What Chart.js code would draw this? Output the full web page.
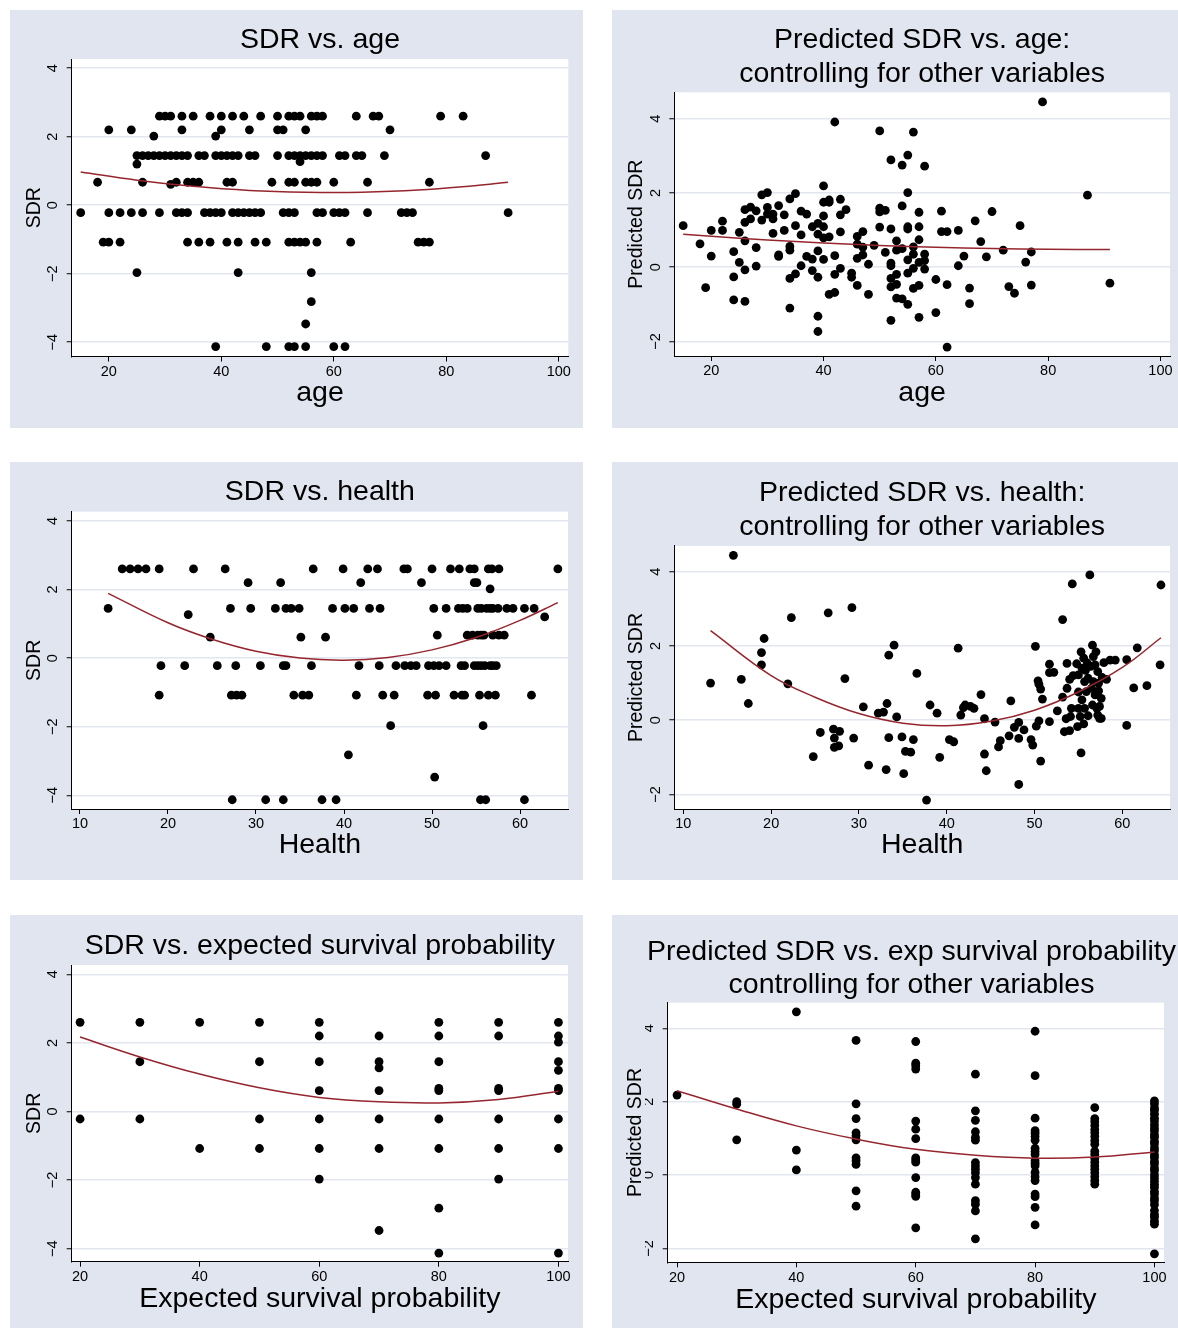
<!DOCTYPE html>
<html><head><meta charset="utf-8">
<script src="https://cdn.jsdelivr.net/npm/chart.js@4.4.0/dist/chart.umd.min.js"></script>
<style>
html,body{margin:0;padding:0;background:#fff;}
body{width:1178px;height:1328px;position:relative;overflow:hidden;}
.panel{position:absolute;background:#E1E5EF;}
canvas{display:block;}
</style></head><body>
<div class="panel" style="left:10px;top:10px;width:573px;height:418px"><canvas id="c1"></canvas></div>
<div class="panel" style="left:612px;top:10px;width:566px;height:418px"><canvas id="c2"></canvas></div>
<div class="panel" style="left:10px;top:462px;width:573px;height:418px"><canvas id="c3"></canvas></div>
<div class="panel" style="left:612px;top:462px;width:566px;height:418px"><canvas id="c4"></canvas></div>
<div class="panel" style="left:10px;top:915px;width:573px;height:413px"><canvas id="c5"></canvas></div>
<div class="panel" style="left:612px;top:915px;width:566px;height:413px"><canvas id="c6"></canvas></div>
<script>
// ---------------- DATA ----------------
const sdrTicks = [-4, -2, 0, 2, 4];
const predTicks = [-2, 0, 2, 4];
const ageTicks = [20, 40, 60, 80, 100];
const healthTicks = [10, 20, 30, 40, 50, 60];
const survTicks = [20, 40, 60, 80, 100];

// observed SDR takes a few discrete values
const sdrLevels = [2.6, 2.2, 2.02, 1.45, 1.27, 1.2, 0.67, 0.61, -0.22, -1.08, -1.97, -2.82, -3.47, -4.13];

// Panel 1: SDR vs age  (ages observed at each SDR level, same order as sdrLevels)
const ageAtLevel = [
  [29,30,31,33,35,38,40,42,44,47,50,52,53,54,56,57,58,64,67,68,79,83],
  [20,24,33,40,45,50,51,55,70],
  [28,39],
  [25,26,27,28,29,30,31,32,33,34,36,37,39,40,41,42,43,45,46,50,52,53,54,55,56,57,58,61,62,64,65,69,87],
  [54],
  [25],
  [18,26,32,34,35,36,41,42,49,52,53,55,56,57,60,66,77],
  [31],
  [15,20,22,24,26,29,32,33,34,37,38,39,40,42,43,44,45,46,47,51,52,53,57,58,60,61,62,66,72,73,74,91],
  [19,20,22,34,36,38,41,43,46,48,52,53,54,55,57,63,75,76,77],
  [25,43,56],
  [56],
  [55],
  [39,48,52,53,55,60,62]
];
const ageFitX = [15, 25, 35, 45, 55, 65, 75, 85, 91];
const ageFitY = [0.97, 0.73, 0.55, 0.43, 0.38, 0.38, 0.44, 0.57, 0.67];

// Panel 2: predicted SDR vs age
const predAge = [15,18,19,20,20,22,22,24,24,24,25,25,26,26,26,26,26,27,27,28,28,28,29,29,30,30,30,31,31,31,32,32,32,33,33,34,34,34,34,34,35,35,35,36,36,36,37,37,38,38,38,39,39,39,39,39,39,40,40,40,40,40,40,41,41,41,41,42,42,42,42,43,43,43,43,44,45,45,46,46,46,46,47,47,47,48,48,49,50,50,50,50,51,51,52,52,52,52,52,52,52,53,53,53,53,53,54,54,54,54,55,55,55,55,55,55,55,56,56,56,56,56,57,57,57,57,57,57,58,58,58,58,60,60,61,61,62,62,62,64,64,65,66,66,67,68,69,70,72,73,74,75,76,77,77,79,87,91];
const predAgeSdr = [1.12,0.63,-0.55,0.99,0.30,1.24,0.99,0.42,-0.26,-0.88,0.94,0.13,1.55,1.21,0.71,-0.07,-0.92,1.62,1.30,1.52,0.53,0.03,1.95,1.27,2.01,1.61,1.43,1.43,1.30,0.91,1.66,0.33,0.29,1.41,0.99,1.84,0.56,0.46,-0.30,-1.10,1.98,1.12,-0.18,1.51,0.87,0.04,1.43,0.29,1.09,0.22,-0.09,1.18,0.89,0.44,-0.27,-1.32,-1.73,2.19,1.75,1.38,1.09,0.79,0.21,1.81,1.75,0.82,-0.73,3.91,0.31,-0.19,-0.68,1.83,1.41,0.95,-0.03,1.55,-0.16,-0.27,0.83,0.62,0.24,-0.49,0.96,0.54,0.33,0.08,-0.73,0.59,3.67,1.59,1.49,1.08,1.53,0.40,2.89,1.03,0.11,0.04,-0.30,-0.53,-1.43,0.71,0.46,-0.19,-0.46,-0.83,2.75,1.65,0.50,-0.85,3.02,2.01,1.09,1.03,0.20,-0.16,-1.00,3.64,0.55,0.35,-0.03,-0.57,1.48,1.09,0.74,0.13,-0.49,-1.35,2.72,0.35,0.18,-0.05,-0.33,-1.22,1.51,0.96,0.96,-0.47,-2.15,0.99,0.04,0.30,-0.56,-0.98,1.25,0.69,0.28,1.50,0.46,-0.52,-0.70,1.12,0.14,0.41,-0.48,4.45,1.94,-0.43];
const predAgeFitX = [15, 25, 35, 45, 55, 65, 75, 85, 91];
const predAgeFitY = [0.89, 0.78, 0.69, 0.62, 0.56, 0.52, 0.49, 0.48, 0.48];

// Panel 3: SDR vs health (health scores at each SDR level)
const healthAtLevel = [
  [14.8,15.7,16.6,17.5,19.0,22.9,26.5,36.5,39.9,42.7,43.8,46.8,47.2,50.0,52.1,53.1,54.3,54.8,56.4,56.8,57.6,64.3],
  [29.1,32.8,41.9,48.8,54.8,55.1],
  [56.6],
  [13.2,27.1,29.4,32.2,33.4,34.0,34.9,38.7,40.1,41.1,42.9,44.1,50.2,51.6,53.0,53.5,54.0,55.2,55.6,56.2,56.6,56.9,57.5,58.5,59.2,60.5,61.6],
  [22.3],
  [62.8],
  [50.6,54.0,54.6,55.2,55.6,55.9,56.9,57.6,58.2],
  [24.8,35.1,37.9],
  [19.2,21.9,25.6,27.7,30.5,33.1,33.4,36.3,41.7,44.0,45.9,46.9,47.6,48.2,49.6,50.2,50.8,51.6,53.3,53.7,54.8,55.2,55.6,56.0,56.6,56.9,57.3],
  [19.0,27.2,27.8,28.4,34.3,35.3,36.0,41.4,44.4,45.7,49.5,50.4,52.5,53.4,53.7,55.4,56.4,57.2,61.3],
  [45.3,55.8],
  [40.5],
  [50.3],
  [27.3,31.1,33.1,37.5,39.1,55.5,56.1,60.5]
];
const healthFitX = [13.2, 20, 25, 30, 35, 40, 45, 50, 55, 60, 64.3];
const healthFitY = [1.89, 1.03, 0.55, 0.20, 0.00, -0.06, 0.02, 0.24, 0.60, 1.10, 1.62];

// Panel 4: predicted SDR vs health
const predHealth = [15.7,13.1,16.6,17.4,18.9,18.9,19.2,21.9,22.3,24.8,25.6,26.5,27.1,27.2,27.2,27.7,27.8,28.4,29.2,29.4,30.5,31.1,32.2,32.8,33.1,33.2,33.4,33.4,34.0,34.3,34.9,35.1,35.3,35.9,36.2,36.6,37.7,38.1,38.9,39.2,40.3,40.8,41.3,41.6,41.9,42.1,42.7,43.1,43.9,44.3,44.3,44.5,45.5,45.9,46.1,47.1,47.3,47.7,48.2,48.2,48.2,48.8,49.6,49.8,50.1,50.2,50.4,50.5,50.5,50.7,50.7,50.9,51.7,51.7,51.7,52.2,52.6,53.2,53.2,53.4,53.6,53.7,53.7,54.0,54.0,54.1,54.2,54.3,54.4,54.8,54.9,55.0,55.0,55.0,55.2,55.3,55.3,55.4,55.4,55.6,55.6,55.7,55.7,55.8,55.9,56.0,56.1,56.1,56.3,56.4,56.5,56.6,56.6,56.7,56.7,56.9,56.9,57.0,57.1,57.2,57.2,57.3,57.3,57.4,57.4,57.6,57.6,57.7,57.9,58.2,58.6,59.2,60.5,60.5,61.3,61.7,62.8,64.3,64.4];
const predHealthSdr = [4.44,1.00,1.10,0.45,1.82,1.49,2.20,0.98,2.76,-0.98,-0.33,2.89,-0.24,-0.48,-0.73,-0.69,-0.30,1.12,3.03,-0.48,0.36,-1.21,0.19,0.22,-1.33,0.45,1.75,-0.47,2.02,0.09,-0.45,-1.44,-0.84,-0.86,-0.52,1.26,-2.15,0.41,0.19,-1.00,-0.52,-0.58,1.94,0.14,0.34,0.41,0.37,0.32,0.69,-0.91,0.04,-1.36,-0.05,-0.72,-0.55,-0.42,0.52,-0.19,-0.06,-0.49,-1.73,-0.26,-0.52,-0.67,1.99,-0.16,1.06,0.97,-0.02,-1.10,0.84,0.57,1.51,1.28,-0.04,1.29,0.25,2.71,0.62,-0.31,0.04,1.53,0.86,-0.28,1.10,0.10,0.32,3.67,1.20,1.52,-0.17,1.22,0.76,0.32,0.10,1.84,-0.88,1.40,0.55,1.67,-0.10,1.04,0.32,1.34,0.77,1.54,0.12,1.13,3.91,1.45,0.86,2.02,0.41,1.71,1.04,1.49,0.68,1.84,0.32,1.31,0.14,1.00,0.79,0.05,0.37,0.59,0.05,1.15,1.55,1.10,1.62,1.62,1.63,-0.14,0.87,1.95,0.93,1.49,3.64];
const predHealthFitX = [13.1, 20, 25, 30, 35, 40, 45, 50, 55, 60, 64.4];
const predHealthFitY = [2.41, 1.20, 0.62, 0.18, -0.08, -0.15, -0.03, 0.27, 0.76, 1.42, 2.22];

// Panel 5: SDR vs expected survival probability
const survCats = [20, 30, 40, 50, 60, 70, 80, 90, 100];
const sdrAtSurv = [
  [2.6, -0.22],
  [2.6, 1.45, -0.22],
  [2.6, -1.08],
  [2.6, 1.45, -0.22, -1.08],
  [2.6, 2.2, 1.45, 0.61, -0.22, -1.08, -1.97],
  [2.2, 1.45, 1.27, 0.61, -0.22, -1.08, -3.47],
  [2.6, 2.2, 1.45, 0.67, 0.61, -0.22, -1.08, -2.82, -4.13],
  [2.6, 2.2, 0.67, 0.61, -0.22, -1.08, -1.97],
  [2.6, 2.2, 2.02, 1.45, 1.2, 0.67, 0.61, -0.22, -1.08, -4.13]
];
const survFitX = [20, 30, 40, 50, 60, 70, 80, 90, 100];
const survFitY = [2.17, 1.59, 1.09, 0.69, 0.41, 0.28, 0.25, 0.35, 0.59];

// Panel 6: predicted SDR vs expected survival probability
const predAtSurv = [
  [2.18],
  [2.00, 1.93, 0.96],
  [4.45, 0.68, 0.14],
  [3.67, 1.94, 1.54, 1.15, 1.07, 0.96, 0.47, 0.39, 0.29, -0.43, -0.85],
  [3.64, 3.05, 2.98, 2.89, 1.47, 1.25, 0.99, 0.47, 0.41, 0.35, -0.07, -0.47, -0.53, -0.58, -1.44],
  [2.75, 1.75, 1.49, 1.18, 1.03, 0.95, 0.34, 0.25, 0.16, 0.06, -0.07, -0.25, -0.70, -0.80, -0.98, -1.74],
  [3.92, 2.71, 1.55, 1.21, 1.14, 1.05, 0.95, 0.73, 0.64, 0.56, 0.39, 0.32, 0.25, 0.07, -0.05, -0.15, -0.52, -0.59, -0.88, -1.36],
  [1.84, 1.54, 1.45, 1.35, 1.24, 1.15, 1.05, 0.94, 0.84, 0.65, 0.56, 0.45, 0.35, 0.25, 0.16, 0.06, -0.05, -0.15, -0.25],
  [2.02, 1.94, 1.83, 1.76, 1.66, 1.55, 1.47, 1.37, 1.28, 1.21, 1.10, 1.03, 0.92, 0.85, 0.74, 0.66, 0.55, 0.48, 0.37, 0.30, 0.19, 0.12, 0.01, -0.08, -0.17, -0.26, -0.34, -0.45, -0.52, -0.63, -0.70, -0.81, -0.97, -1.08, -1.15, -1.26, -1.34, -2.15]
];
const predSurvFitX = [20, 30, 40, 50, 60, 70, 80, 90, 100];
const predSurvFitY = [2.30, 1.80, 1.34, 0.98, 0.70, 0.54, 0.46, 0.49, 0.63];

// ---------------- BUILDERS ----------------
function fromLevels(levels, groups) {
  const pts = [];
  groups.forEach((g, i) => g.forEach(x => pts.push({x: x, y: levels[i]})));
  return pts;
}
function fromCats(cats, groups) {
  const pts = [];
  groups.forEach((g, i) => g.forEach(y => pts.push({x: cats[i], y: y})));
  return pts;
}
function zip(xs, ys) { return xs.map((x, i) => ({x: x, y: ys[i]})); }

const FONT = '"Liberation Sans", Arial, Helvetica, sans-serif';
const GRID = '#E2E6EF';
const FIT = 'rgb(150,38,46)';
const fmt = v => (v < 0 ? '\u2212' + Math.abs(v) : String(v));

const plotBg = {
  id: 'plotBg',
  beforeDraw(chart) {
    const {ctx, chartArea: a} = chart;
    ctx.save();
    ctx.fillStyle = '#ffffff';
    ctx.fillRect(a.left, a.top, a.right - a.left, a.bottom - a.top);
    ctx.restore();
  }
};

function build(id, o) {
  const cv = document.getElementById(id);
  cv.width = o.W; cv.height = o.H;
  cv.style.width = o.W + 'px'; cv.style.height = o.H + 'px';
  const scales = {
    x: {
      type: 'linear', position: 'bottom', min: o.xmin, max: o.xmax,
      afterBuildTicks: s => { s.ticks = o.xTicks.map(v => ({value: v})); },
      afterFit: s => { s.height = o.xH; },
      grid: {display: true, drawOnChartArea: false, drawTicks: true, tickLength: 5, tickColor: '#000', tickWidth: 1},
      border: {display: true, color: '#000', width: 1},
      ticks: {color: '#000', font: {family: FONT, size: 14.5}, padding: 1.5, maxRotation: 0, autoSkip: false, callback: v => fmt(v)},
      title: {display: true, text: o.xTitle, color: '#000', font: {family: FONT, size: 28.5, lineHeight: 1.2}, padding: {top: 0, bottom: o.xTitlePad}}
    },
    y: {
      type: 'linear', position: 'left', min: o.ymin, max: o.ymax,
      afterBuildTicks: s => { s.ticks = o.yTicks.map(v => ({value: v})); },
      afterFit: s => { s.width = o.L - o.padL; },
      grid: {display: true, color: GRID, lineWidth: 1.5, drawTicks: true, tickLength: 5, tickColor: '#000', tickWidth: 1},
      border: {display: true, color: '#000', width: 1},
      ticks: {color: '#000', font: {family: FONT, size: 14.5}, padding: 5, minRotation: 90, maxRotation: 90, crossAlign: 'center', autoSkip: false, callback: v => fmt(v)},
      title: {display: true, text: o.yTitle, color: '#000', font: {family: FONT, size: 19.5, lineHeight: 1.2}, padding: {top: o.yTitlePad, bottom: 0}}
    }
  };
  if (o.rightW) {
    scales.yr = {
      type: 'linear', position: 'right', display: true,
      afterFit: s => { s.width = o.rightW; },
      grid: {display: false, drawTicks: false}, border: {display: false},
      ticks: {display: false}, title: {display: false}
    };
  }
  new Chart(cv, {
    type: 'scatter',
    data: {datasets: [
      {type: 'line', data: o.fit, borderColor: FIT, borderWidth: 1.5, pointRadius: 0, tension: 0.4, fill: false, showLine: true},
      {type: 'scatter', data: o.points, backgroundColor: '#000', borderColor: '#000', borderWidth: 0, pointRadius: 4.4, pointHoverRadius: 4.4}
    ]},
    options: {
      responsive: false, animation: false, devicePixelRatio: 1,
      layout: {padding: {left: o.padL, right: o.padR, top: 0, bottom: 0}},
      plugins: {
        legend: {display: false}, tooltip: {enabled: false},
        title: {display: true, text: o.title, color: '#000', fullSize: !!o.titleFull,
          font: {family: FONT, size: 28.5, weight: 'normal', lineHeight: o.titleLH || 1.2},
          padding: {top: o.tPadT, bottom: o.tPadB}}
      },
      scales: scales
    },
    plugins: [plotBg]
  });
}

build('c1', {W: 573, H: 418, L: 61.7, padL: 0, padR: 14.7, xH: 71.5,
  xmin: 13.4, xmax: 101.7, ymin: -4.42, ymax: 4.27, xTicks: ageTicks, yTicks: sdrTicks,
  title: 'SDR vs. age', tPadT: 13, tPadB: 1.8, xTitle: 'age', xTitlePad: 18, yTitle: 'SDR', yTitlePad: 12.6,
  points: fromLevels(sdrLevels, ageAtLevel), fit: zip(ageFitX, ageFitY)});

build('c2', {W: 566, H: 418, L: 62.3, padL: 0, padR: 8, xH: 72,
  xmin: 13.42, xmax: 101.7, ymin: -2.39, ymax: 4.71, xTicks: ageTicks, yTicks: predTicks,
  title: ['Predicted SDR vs. age:', 'controlling for other variables'], tPadT: 13, tPadB: 0.9,
  xTitle: 'age', xTitlePad: 18, yTitle: 'Predicted SDR', yTitlePad: 12.8,
  points: zip(predAge, predAgeSdr), fit: zip(predAgeFitX, predAgeFitY)});

build('c3', {W: 573, H: 418, L: 61.7, padL: 0, padR: 15, xH: 71,
  xmin: 9.06, xmax: 65.45, ymin: -4.40, ymax: 4.27, xTicks: healthTicks, yTicks: sdrTicks,
  title: 'SDR vs. health', tPadT: 13, tPadB: 2.5, xTitle: 'Health', xTitlePad: 18, yTitle: 'SDR', yTitlePad: 12.6,
  points: fromLevels(sdrLevels, healthAtLevel), fit: zip(healthFitX, healthFitY)});

build('c4', {W: 566, H: 418, L: 62.3, padL: 0, padR: 8, xH: 71,
  xmin: 8.97, xmax: 65.43, ymin: -2.39, ymax: 4.69, xTicks: healthTicks, yTicks: predTicks,
  title: ['Predicted SDR vs. health:', 'controlling for other variables'], tPadT: 14, tPadB: 1.6,
  xTitle: 'Health', xTitlePad: 18, yTitle: 'Predicted SDR', yTitlePad: 12.8,
  points: zip(predHealth, predHealthSdr), fit: zip(predHealthFitX, predHealthFitY)});

build('c5', {W: 573, H: 413, L: 61.7, padL: 0, padR: 15, xH: 66.3,
  xmin: 18.6, xmax: 101.6, ymin: -4.38, ymax: 4.27, xTicks: survTicks, yTicks: sdrTicks,
  title: 'SDR vs. expected survival probability', tPadT: 14, tPadB: 1.8,
  xTitle: 'Expected survival probability', xTitlePad: 12, yTitle: 'SDR', yTitlePad: 12.6,
  points: fromCats(survCats, sdrAtSurv), fit: zip(survFitX, survFitY)});

build('c6', {W: 566, H: 413, L: 55.7, padL: 33, padR: 0, rightW: 14, xH: 65.7,
  xmin: 18.44, xmax: 101.6, ymin: -2.38, ymax: 4.70, xTicks: survTicks, yTicks: predTicks,
  title: ['Predicted SDR vs. exp survival probability', 'controlling for other variables'], titleFull: true, titleLH: 1.15,
  tPadT: 20.5, tPadB: 1.6,
  xTitle: 'Expected survival probability', xTitlePad: 11, yTitle: 'Predicted SDR', yTitlePad: -21.2,
  points: fromCats(survCats, predAtSurv), fit: zip(predSurvFitX, predSurvFitY)});
</script>
</body></html>
